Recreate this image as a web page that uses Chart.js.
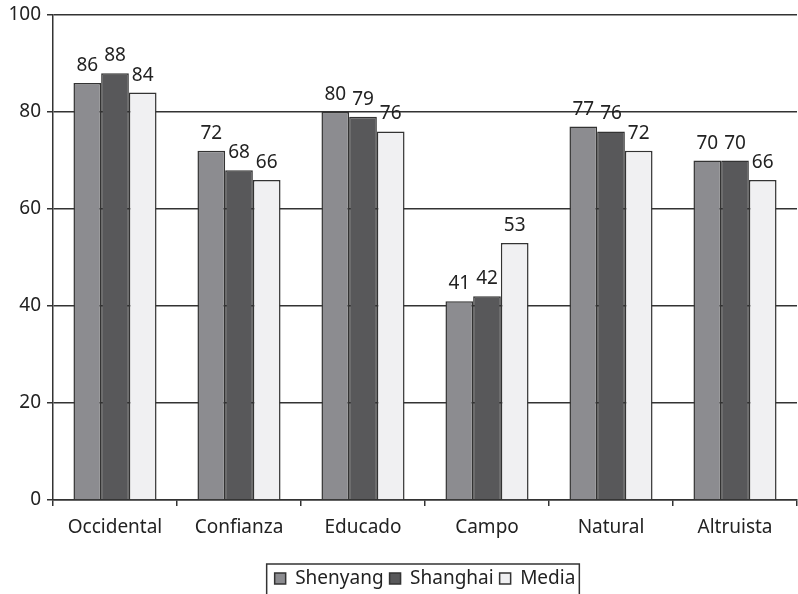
<!DOCTYPE html>
<html>
<head>
<meta charset="utf-8">
<script src="https://cdn.jsdelivr.net/npm/chart.js@4/dist/chart.umd.min.js"></script>
<style>
  html, body { margin: 0; padding: 0; background: #fff; }
  #wrap { width: 798px; height: 594px; }
</style>
</head>
<body>
<div id="wrap"><canvas id="chart" width="798" height="594"></canvas></div>
<script>
// Datos del gráfico
const categorias = ['Occidental', 'Confianza', 'Educado', 'Campo', 'Natural', 'Altruista'];
const shenyang = [86, 72, 80, 41, 77, 70];
const shanghai = [88, 68, 79, 42, 76, 70];
const media = [84, 66, 76, 53, 72, 66];
const ticksY = [0, 20, 40, 60, 80, 100];

const fuente = '"Noto Sans", "Open Sans", sans-serif';
const colorTexto = '#222';
const tamFuente = 19;

// Etiquetas de valor encima de cada barra
const etiquetasPlugin = {
  id: 'etiquetas',
  afterDatasetsDraw(chart) {
    const ctx = chart.ctx;
    ctx.save();
    ctx.font = tamFuente + 'px ' + fuente;
    ctx.fillStyle = colorTexto;
    ctx.textAlign = 'center';
    ctx.textBaseline = 'alphabetic';
    chart.data.datasets.forEach((ds, i) => {
      const meta = chart.getDatasetMeta(i);
      meta.data.forEach((bar, j) => {
        ctx.fillText(ds.data[j], bar.x, bar.y - 12);
      });
    });
    ctx.restore();
  }
};

// Marco alrededor de la leyenda
const marcoLeyenda = {
  id: 'marcoLeyenda',
  afterDraw(chart) {
    const boxes = chart.legend.legendHitBoxes;
    if (!boxes || !boxes.length) return;
    const ctx = chart.ctx;
    const left = Math.min(...boxes.map(b => b.left)) - 8;
    const right = Math.max(...boxes.map(b => b.left + b.width)) + 4;
    const top = Math.min(...boxes.map(b => b.top)) - 5;
    ctx.save();
    ctx.strokeStyle = '#333';
    ctx.lineWidth = 1.5;
    ctx.strokeRect(left, top, right - left, 40);
    ctx.restore();
  }
};

new Chart(document.getElementById('chart'), {
  type: 'bar',
  data: {
    labels: categorias,
    datasets: [
      { label: 'Shenyang', data: shenyang, backgroundColor: '#8c8c90', borderColor: '#333', borderWidth: 1.5 },
      { label: 'Shanghai', data: shanghai, backgroundColor: '#58585a', borderColor: '#333', borderWidth: 1.5 },
      { label: 'Media', data: media, backgroundColor: '#f0f0f2', borderColor: '#333', borderWidth: 1.5 }
    ]
  },
  options: {
    responsive: false,
    animation: false,
    devicePixelRatio: 1,
    categoryPercentage: 0.67,
    barPercentage: 1.0,
    layout: { padding: { top: 15, right: 1, left: 0, bottom: -4 } },
    plugins: {
      legend: {
        position: 'bottom',
        fullSize: false,
        labels: {
          font: { size: tamFuente, family: fuente },
          color: colorTexto,
          boxWidth: 11,
          boxHeight: 11,
          padding: 6
        }
      },
      tooltip: { enabled: false }
    },
    scales: {
      x: {
        grid: { display: true, drawOnChartArea: false, color: '#333', tickLength: 6, lineWidth: 1.5 },
        border: { color: '#333', width: 1.5 },
        ticks: { font: { size: tamFuente, family: fuente }, color: colorTexto, padding: 10 },
        afterFit(scale) { scale.height = 63; }
      },
      y: {
        min: 0,
        max: 100,
        afterBuildTicks(scale) { scale.ticks = ticksY.map(v => ({ value: v })); },
        grid: { color: '#333', tickLength: 6, lineWidth: 1.5 },
        border: { color: '#333', width: 1.5 },
        ticks: { font: { size: tamFuente, family: fuente }, color: colorTexto, padding: 6 },
        afterFit(scale) { scale.width = 53; scale.paddingTop = 0; scale.paddingBottom = 0; }
      }
    }
  },
  plugins: [etiquetasPlugin, marcoLeyenda]
});
</script>
</body>
</html>
